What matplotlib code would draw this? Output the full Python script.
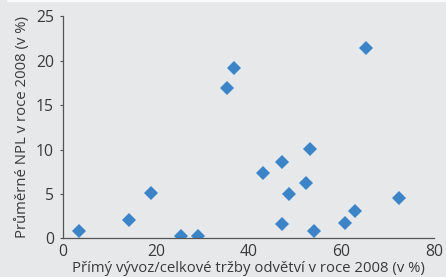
import matplotlib.pyplot as plt
from matplotlib.lines import Line2D

# Přímý vývoz / celkové tržby (v %) a průměrné NPL (v %)
export_share = [3.4, 14.2, 18.9, 25.4, 29.2, 35.3, 36.9, 65.4, 43.2, 47.3,
                53.3, 48.8, 52.3, 47.2, 54.1, 60.7, 62.9, 72.5]
npl = [0.8, 2.1, 5.1, 0.3, 0.3, 16.9, 19.2, 21.4, 7.4, 8.6,
       10.1, 5.0, 6.2, 1.6, 0.8, 1.7, 3.1, 4.6]

x_ticks = [0, 20, 40, 60, 80]
y_ticks = [0, 5, 10, 15, 20, 25]

plt.rcParams['font.family'] = ['Open Sans', 'DejaVu Sans']

bg = '#e7e8ea'
text_col = '#3a3a3a'

fig = plt.figure(figsize=(4.46, 2.77), dpi=100, facecolor=bg)
ax = fig.add_axes([0.1413, 0.139, 0.832, 0.803], facecolor=bg)

ax.plot(export_share, npl, linestyle='none', marker='D', ms=7.4,
        color='#3b84c8', markeredgewidth=0)

ax.set_xlim(0, 80)
ax.set_ylim(0, 25)
ax.set_xticks(x_ticks)
ax.set_yticks(y_ticks)

for s in ['top', 'right']:
    ax.spines[s].set_visible(False)
for s in ['left', 'bottom']:
    ax.spines[s].set_color('#555555')
    ax.spines[s].set_linewidth(0.9)

ax.tick_params(axis='x', length=0, pad=4, labelsize=11.3, labelcolor=text_col)
ax.tick_params(axis='y', length=2.5, width=0.8, color='#555555', pad=4,
               labelsize=11.3, labelcolor=text_col)

ax.set_xlabel('Přímý vývoz/celkové tržby odvětví v roce 2008 (v %)',
              fontsize=10.7, color=text_col, labelpad=1)
ax.set_ylabel('Průměrné NPL v roce 2008 (v %)', fontsize=10.7,
              color=text_col, labelpad=4)

# tenká bílá linka nahoře
fig.add_artist(Line2D([0.018, 1.0], [0.995, 0.995], transform=fig.transFigure,
                      color='white', linewidth=1.2))

fig.savefig('out.png', dpi=100, facecolor=bg)
